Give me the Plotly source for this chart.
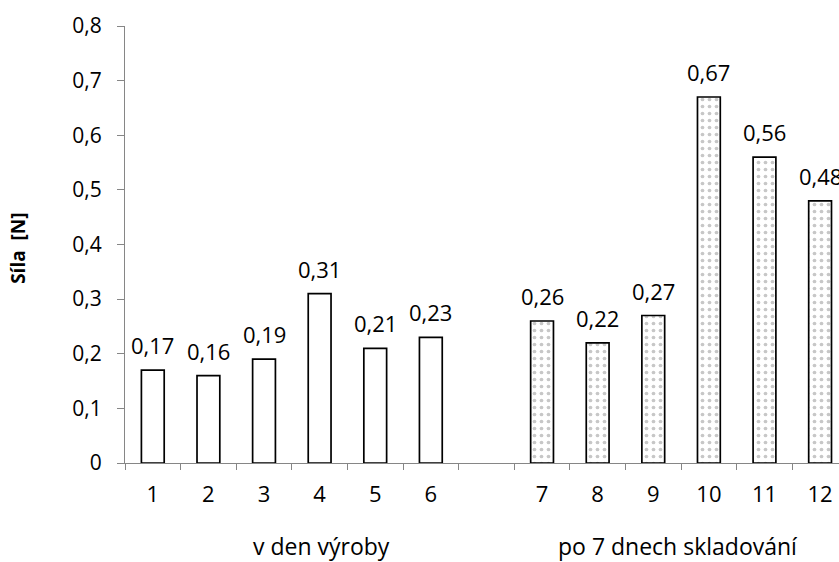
import plotly.graph_objects as go

cats_day0 = ["1", "2", "3", "4", "5", "6"]
vals_day0 = [0.17, 0.16, 0.19, 0.31, 0.21, 0.23]
cats_day7 = ["7", "8", "9", "10", "11", "12"]
vals_day7 = [0.26, 0.22, 0.27, 0.67, 0.56, 0.48]
category_order = cats_day0 + [" "] + cats_day7
group_labels = ["v den výroby", "po 7 dnech skladování"]
group_label_pos = [3.03, 9.45]
y_title = "Síla&nbsp;&nbsp;[N]"

FONT = "Open Sans"
PLOT_TOP, PLOT_BOTTOM, PLOT_LEFT = 26, 463, 125

fig = go.Figure()
fig.add_trace(go.Bar(
    x=cats_day0, y=vals_day0, width=0.41,
    marker=dict(color="white", line=dict(color="black", width=1.7)),
    showlegend=False, hoverinfo="x+y",
))
fig.add_trace(go.Bar(
    x=cats_day7, y=vals_day7, width=0.41,
    marker=dict(color="white", line=dict(color="black", width=1.7),
                pattern=dict(shape=".", fgcolor="#8f8f8f", bgcolor="white",
                             size=7, solidity=0.22)),
    showlegend=False, hoverinfo="x+y",
))

# data labels (positioned by category index on the category axis)
for cats, vals in ((cats_day0, vals_day0), (cats_day7, vals_day7)):
    for c, v in zip(cats, vals):
        fig.add_annotation(x=category_order.index(c), y=v, xref="x", yref="y",
                           text=f"{v:.2f}".replace(".", ","),
                           showarrow=False, yanchor="bottom", xanchor="center",
                           yshift=8,
                           font=dict(family=FONT, size=22, color="black"))

# group labels
plot_h = PLOT_BOTTOM - PLOT_TOP
for lbl, pos in zip(group_labels, group_label_pos):
    fig.add_annotation(x=pos, xref="x", y=-(546 - PLOT_BOTTOM) / plot_h, yref="paper",
                       text=lbl, showarrow=False, yanchor="middle", xanchor="center",
                       font=dict(family=FONT, size=23, color="black"))

# y title
fig.add_annotation(x=(18 - PLOT_LEFT) / 714, xref="paper", y=0.49, yref="paper",
                   text="<b>" + y_title + "</b>", textangle=-90, showarrow=False,
                   xanchor="center", yanchor="middle",
                   font=dict(family=FONT, size=19, color="black"))

fig.update_layout(
    width=839, height=562,
    margin=dict(l=PLOT_LEFT, r=0, t=PLOT_TOP, b=562 - PLOT_BOTTOM),
    paper_bgcolor="white", plot_bgcolor="white",
    barmode="overlay",
    separators=", ",
    font=dict(family=FONT, size=21, color="black"),
    xaxis=dict(type="category", categoryorder="array", categoryarray=category_order,
               range=[-0.5, 12.34], showline=True, linecolor="#868686", linewidth=1,
               ticks="outside", tickson="boundaries", ticklen=6, tickcolor="#868686",
               showgrid=False, tickfont=dict(family=FONT, size=22, color="black"),
               ticklabelstandoff=12),
    yaxis=dict(range=[0, 0.8], dtick=0.1, tickformat=".1~f", showline=True,
               linecolor="#868686", linewidth=1, ticks="outside", ticklen=7,
               tickcolor="#868686", showgrid=False, zeroline=False,
               tickfont=dict(family=FONT, size=21, color="black"),
               ticklabelstandoff=11),
)

fig.write_html("out.html")
